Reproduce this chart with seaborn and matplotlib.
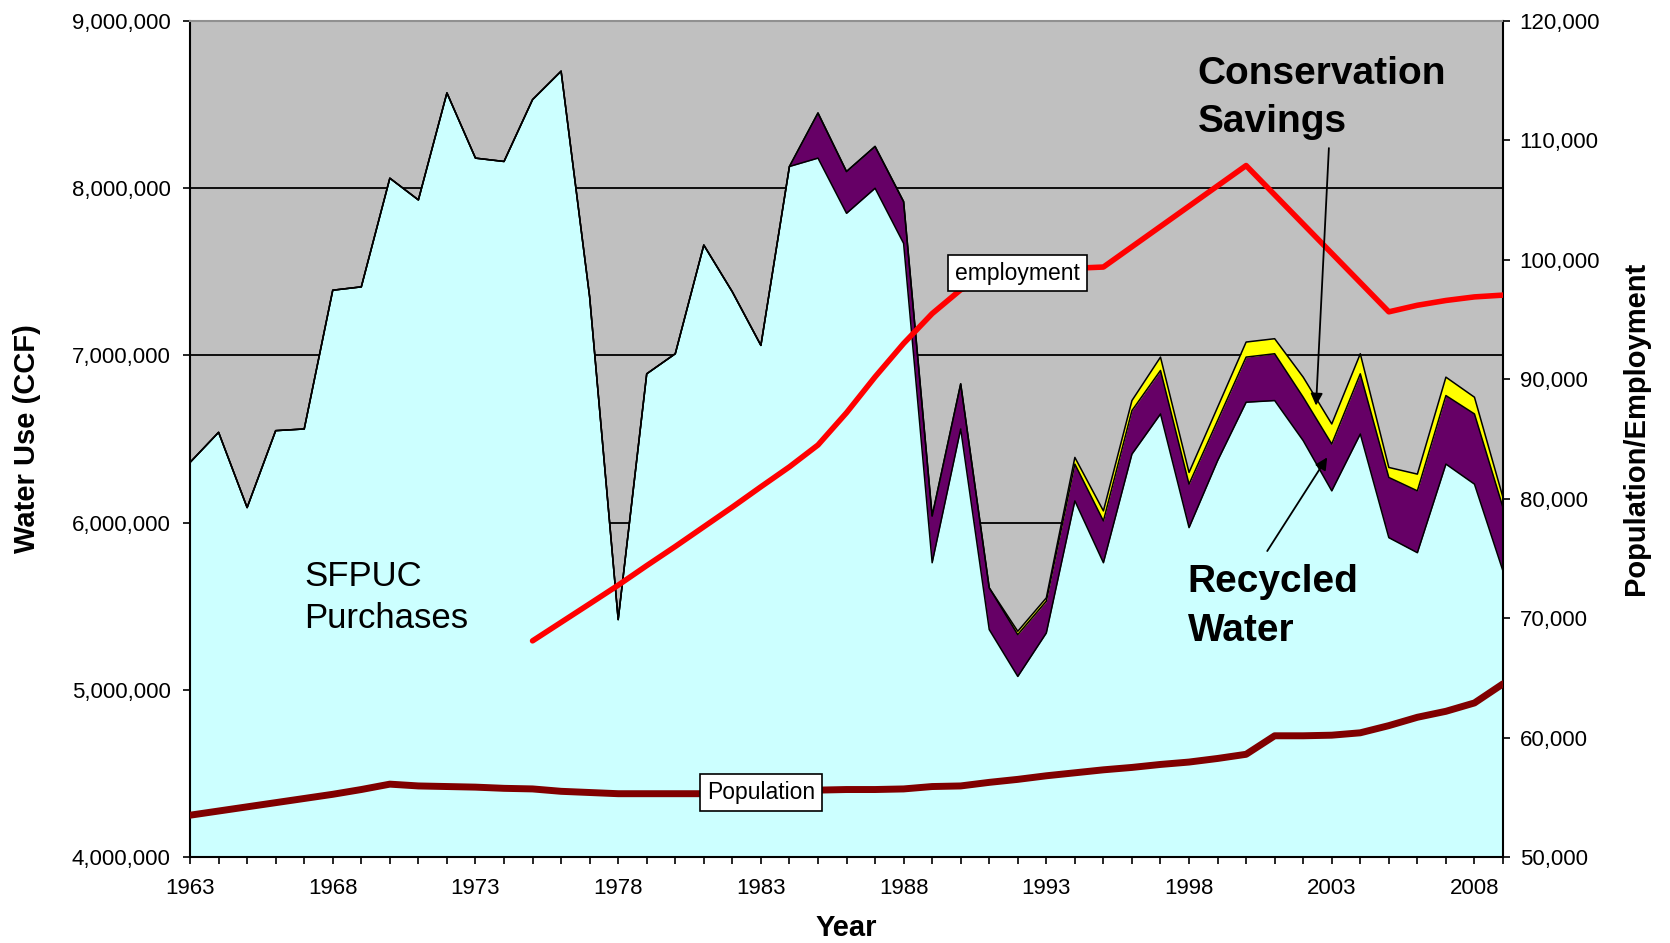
import numpy as np
import pandas as pd
import matplotlib
matplotlib.use("Agg")
import matplotlib.pyplot as plt
import matplotlib.ticker as mticker
import seaborn as sns

# --- data --------------------------------------------------------------
years = list(range(1963, 2010))

# SFPUC purchases, million CCF
purchases = [6.36, 6.54, 6.09, 6.55, 6.56, 7.39, 7.41, 8.06, 7.93, 8.57,
             8.18, 8.16, 8.53, 8.70, 7.35, 5.42, 6.89, 7.01, 7.66, 7.38,
             7.06, 8.13, 8.18, 7.85, 8.00, 7.67, 5.76, 6.56, 5.36, 5.08,
             5.34, 6.13, 5.76, 6.41, 6.65, 5.97, 6.37, 6.72, 6.73, 6.49,
             6.19, 6.53, 5.91, 5.82, 6.35, 6.23, 5.71]

# recycled water, million CCF
recycled = [0] * 21 + [0.0, 0.27, 0.25, 0.25, 0.25, 0.28, 0.27, 0.25, 0.25,
                       0.19, 0.22, 0.25, 0.26, 0.26, 0.26, 0.24, 0.27, 0.28,
                       0.26, 0.28, 0.36, 0.36, 0.37, 0.41, 0.42, 0.38]

# conservation savings, million CCF
conservation = [0] * 29 + [0.02, 0.02, 0.04, 0.06, 0.06, 0.08, 0.07, 0.08,
                           0.09, 0.09, 0.12, 0.12, 0.12, 0.06, 0.10, 0.11,
                           0.10, 0.06]

population = [53500, 53850, 54200, 54550, 54900, 55250, 55650, 56100, 55950,
              55900, 55850, 55750, 55700, 55500, 55400, 55300, 55300, 55300,
              55300, 55350, 55400, 55500, 55600, 55650, 55650, 55700, 55900,
              55950, 56250, 56500, 56800, 57050, 57300, 57500, 57750, 57950,
              58250, 58600, 60150, 60150, 60200, 60400, 61000, 61700, 62200,
              62900, 64500]

emp_years = list(range(1975, 2010))
employment = [68100, 69650, 71200, 72760, 74400, 76000, 77650, 79300, 81000,
              82670, 84500, 87200, 90200, 93000, 95500, 97500, 98400, 98900,
              99200, 99300, 99400, 101100, 102800, 104500, 106200, 107900,
              105450, 103000, 100550, 98100, 95650, 96200, 96600, 96900,
              97050]

water = pd.DataFrame({"year": years,
                      "purchases": np.array(purchases) * 1e6,
                      "recycled": np.array(recycled) * 1e6,
                      "conservation": np.array(conservation) * 1e6})
water["recycled_top"] = water["purchases"] + water["recycled"]
water["conservation_top"] = water["recycled_top"] + water["conservation"]

pop = pd.DataFrame({"year": years, "population": population})
emp = pd.DataFrame({"year": emp_years, "employment": employment})

# --- style -------------------------------------------------------------
sns.set_theme(style="white")
plt.rcParams["font.family"] = ["Liberation Sans", "DejaVu Sans"]
plt.rcParams["text.color"] = "black"
plt.rcParams["axes.labelcolor"] = "black"

fig = plt.figure(figsize=(16.7, 9.43), dpi=100)
ax = fig.add_axes([0.1138, 0.0912, 0.7862, 0.8865])
ax.set_facecolor("#C0C0C0")

# stacked areas
ax.fill_between(water["year"], 0, water["purchases"], color="#CCFFFF", lw=0, zorder=1)
ax.fill_between(water["year"], water["purchases"], water["recycled_top"],
                color="#660066", lw=0, zorder=1)
ax.fill_between(water["year"], water["recycled_top"], water["conservation_top"],
                color="#FFFF00", lw=0, zorder=1)
for col in ["purchases", "recycled_top", "conservation_top"]:
    ax.plot(water["year"], water[col], color="black", lw=1.1, zorder=2)

ax.set_xlim(1963, 2009)
ax.set_ylim(4e6, 9e6)
ax.yaxis.set_major_locator(mticker.MultipleLocator(1e6))
ax.yaxis.set_major_formatter(mticker.FuncFormatter(lambda v, _: f"{v:,.0f}"))
ax.xaxis.set_major_locator(mticker.FixedLocator(list(range(1963, 2010, 5))))
ax.xaxis.set_minor_locator(mticker.MultipleLocator(1))
ax.set_axisbelow(True)
ax.grid(axis="y", color="black", lw=1.3)
ax.grid(axis="x", visible=False)

ax.tick_params(axis="both", which="both", direction="out", length=5,
               width=1.2, color="black", labelsize=16, labelcolor="black")
ax.tick_params(axis="y", pad=9)
ax.tick_params(axis="x", pad=10)
ax.tick_params(left=True, bottom=True)
ax.tick_params(axis="x", which="minor", bottom=True)

for side in ["left", "bottom", "right"]:
    ax.spines[side].set_color("black")
    ax.spines[side].set_linewidth(1.5)
ax.spines["top"].set_color("#909090")
ax.spines["top"].set_linewidth(1.5)

ax.set_xlabel("Year", fontsize=21, fontweight="bold")
ax.set_ylabel("Water Use (CCF)", fontsize=21, fontweight="bold")
ax.xaxis.set_label_coords(0.5, -0.068)
ax.yaxis.set_label_coords(-0.1135, 0.5)

# right axis: population / employment
ax2 = ax.twinx()
sns.lineplot(data=emp, x="year", y="employment", ax=ax2, color="#FF0000",
             linewidth=4, zorder=3)
sns.lineplot(data=pop, x="year", y="population", ax=ax2, color="#800000",
             linewidth=5, zorder=3)
ax2.set_ylim(50000, 120000)
ax2.yaxis.set_major_locator(mticker.MultipleLocator(10000))
ax2.yaxis.set_major_formatter(mticker.FuncFormatter(lambda v, _: f"{v:,.0f}"))
ax2.tick_params(axis="y", direction="out", length=5, width=1.2, color="black",
                labelsize=16, labelcolor="black", pad=7, right=True)
for side in ax2.spines:
    ax2.spines[side].set_visible(False)
ax2.set_ylabel("Population/Employment", fontsize=21, fontweight="bold")
ax2.yaxis.set_label_coords(1.0906, 0.513)
ax2.set_xlabel("")

# data labels
box = dict(boxstyle="square,pad=0.3", fc="white", ec="black", lw=1.2)
i92 = emp_years.index(1992)
ax2.text(1992, employment[i92], "employment", fontsize=16.5, ha="center",
         va="center", bbox=box, zorder=5)
i83 = years.index(1983)
ax2.text(1983, population[i83], "Population", fontsize=16.5, ha="center",
         va="center", bbox=box, zorder=5)

# text annotations (in water-use coordinates)
ax2.text(1967.0, 5.55e6, "SFPUC\nPurchases", transform=ax.transData,
         fontsize=25, ha="left", va="center", linespacing=1.35, zorder=5)
ax2.text(1998.3, 8.54e6, "Conservation\nSavings", transform=ax.transData,
         fontsize=28, fontweight="bold", ha="left", va="center",
         linespacing=1.45, zorder=5)
ax2.text(1997.95, 5.50e6, "Recycled\nWater", transform=ax.transData,
         fontsize=28, fontweight="bold", ha="left", va="center",
         linespacing=1.45, zorder=5)

arrow = dict(arrowstyle="-|>", color="black", lw=1.3, mutation_scale=18,
             shrinkA=0, shrinkB=0)
ax2.annotate("", xy=(2002.45, 6.70e6), xytext=(2002.9, 8.24e6),
             xycoords=ax.transData, textcoords=ax.transData,
             arrowprops=arrow, zorder=6)
ax2.annotate("", xy=(2002.84, 6.39e6), xytext=(2000.74, 5.83e6),
             xycoords=ax.transData, textcoords=ax.transData,
             arrowprops=arrow, zorder=6)

fig.savefig("out.png", dpi=100)
